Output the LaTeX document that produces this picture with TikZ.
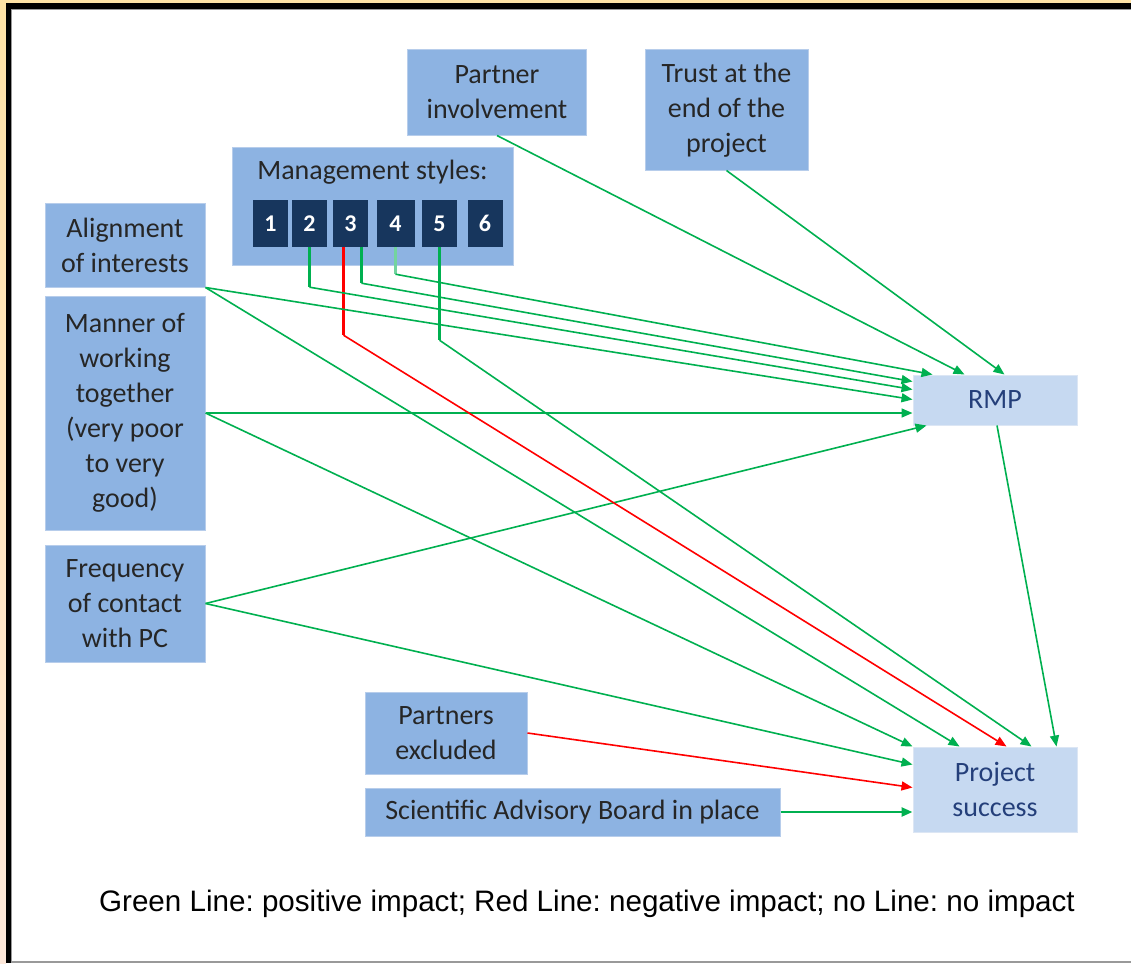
\documentclass[tikz,border=0pt]{standalone}
\usepackage{fontspec}
\setmainfont{Carlito}
\newfontfamily\legendfont{Liberation Sans}
\usetikzlibrary{arrows.meta,calc}
\frenchspacing

\definecolor{inboxfill}{HTML}{8DB3E2}
\definecolor{inboxedge}{HTML}{B7CDEB}
\definecolor{intext}{HTML}{262626}
\definecolor{outboxfill}{HTML}{C6D9F1}
\definecolor{outboxedge}{HTML}{DCE6F4}
\definecolor{outtext}{HTML}{243F7A}
\definecolor{navy}{HTML}{17365D}
\definecolor{posgreen}{HTML}{00B050}
\definecolor{negred}{HTML}{FF0000}
\definecolor{frametop}{HTML}{FFE3A6}
\definecolor{framebot}{HTML}{FDE8DA}

\begin{document}
\begin{tikzpicture}[x=1pt,y=-1pt,
  inbox/.style={draw=inboxedge, line width=1pt, fill=inboxfill, text=intext,
    font=\fontsize{28}{35}\selectfont, align=center, inner sep=0pt},
  outbox/.style={draw=outboxedge, line width=1pt, fill=outboxfill, text=outtext,
    font=\fontsize{28}{35}\selectfont, align=center, inner sep=0pt},
  stylebox/.style={fill=navy, text=white, font=\fontsize{24}{28}\selectfont\bfseries,
    minimum width=35pt, minimum height=47pt, inner sep=0pt},
  posline/.style={draw=posgreen, line width=1.6pt, -{Triangle[length=11pt,width=9pt]}},
  negline/.style={draw=negred, line width=1.6pt, -{Triangle[length=11pt,width=9pt]}},
  stem/.style={line width=2.6pt}
]
\useasboundingbox (0,0) rectangle (1131,963);

% page frame
\fill[white] (0,0) rectangle (1131,963);
\shade[top color=frametop, bottom color=framebot] (0,0) rectangle (6,963);
\fill[frametop] (0,0) rectangle (1131,3);
\fill[black] (6,3) rectangle (1131,9);
\fill[black] (6,3) rectangle (11,963);
\draw[gray!80, line width=1pt] (11,9.5) -- (1131,9.5);
\draw[gray!80, line width=1pt] (11.5,9.5) -- (11.5,963);
\draw[gray!80, line width=1.5pt] (11,962) -- (1131,962);

% input factors
\node[inbox, minimum width=179pt, minimum height=85pt] (partner) at (497,92.5) {Partner\\involvement};
\node[inbox, minimum width=163pt, minimum height=120pt] (trust) at (726.5,110) {Trust at the\\end of the\\project};
\node[inbox, minimum width=281pt, minimum height=118pt] (mgmt) at (372.5,206) {};
\node[font=\fontsize{28}{35}\selectfont, text=intext, inner sep=0pt] (mtitle) at (372.5,172) {Management styles:};
\node[stylebox] (s1) at (270.5,223.5) {1};
\node[stylebox] (s2) at (309.5,223.5) {2};
\node[stylebox] (s3) at (350.5,223.5) {3};
\node[stylebox, minimum width=38pt] (s4) at (395.5,223.5) {4};
\node[stylebox] (s5) at (439.5,223.5) {5};
\node[stylebox] (s6) at (485,223.5) {6};

\node[inbox, minimum width=160pt, minimum height=84pt] (align) at (125,245) {Alignment\\of interests};
\node[inbox, minimum width=160pt, minimum height=234pt] (manner) at (125,413) {Manner of\\working\\together\\(very poor\\to very\\good)};
\node[inbox, minimum width=160pt, minimum height=117pt] (freq) at (125,603.5) {Frequency\\of contact\\with PC};
\node[inbox, minimum width=162pt, minimum height=82pt] (excl) at (446,733) {Partners\\excluded};
\node[inbox, minimum width=415pt, minimum height=48pt] (sab) at (572.5,812) {Scientific Advisory Board in place};

% outcomes
\node[outbox, minimum width=164pt, minimum height=50pt] (rmp) at (995,400) {RMP};
\node[outbox, minimum width=164pt, minimum height=85pt] (ps) at (995,789.5) {Project\\success};

% entry points on the outcome boxes
\coordinate (rT1) at ($(rmp.north west)+(20,0)$);
\coordinate (rT2) at ($(rmp.north west)+(52,0)$);
\coordinate (rT3) at ($(rmp.north west)+(92,0)$);
\coordinate (rL1) at ($(rmp.north west)+(0,7)$);
\coordinate (rL2) at ($(rmp.north west)+(0,15)$);
\coordinate (rL3) at ($(rmp.north west)+(0,25)$);
\coordinate (rB1) at ($(rmp.south west)+(14,0)$);
\coordinate (pT1) at (ps.north west);
\coordinate (pT2) at ($(ps.north west)+(47,0)$);
\coordinate (pT3) at ($(ps.north west)+(94,0)$);
\coordinate (pT4) at ($(ps.north west)+(119,0)$);
\coordinate (pT5) at ($(ps.north west)+(144,0)$);
\coordinate (pL1) at ($(ps.north west)+(0,18)$);
\coordinate (pL2) at ($(ps.north west)+(0,41)$);

% stems below the management style squares
\draw[posgreen, stem] (s2.south) -- ++(0,40) coordinate (k2);
\draw[negred, stem] ($(s3.south)+(-7,0)$) -- ++(0,88) coordinate (k3r);
\draw[posgreen, stem] ($(s3.south)+(11,0)$) -- ++(0,36) coordinate (k3g);
\draw[posgreen!55, stem] (s4.south) -- ++(0,27) coordinate (k4);
\draw[posgreen, stem] (s5.south) -- ++(0,93) coordinate (k5);

% effects on RMP
\draw[posline] (partner.south) -- (rT2);
\draw[posline] (trust.south) -- (rT3);
\draw[posline] (k4) -- (rT1);
\draw[posline] (k3g) -- (rL1);
\draw[posline] (k2) -- (rL2);
\draw[posline] (align.south east) -- (rL3);
\draw[posline] (manner.east) -- (manner.east -| rmp.west);
\draw[posline] (freq.east) -- (rB1);

% effects on project success
\draw[posline] (manner.east) -- (pT1);
\draw[posline] (align.south east) -- (pT2);
\draw[negline] (k3r) -- (pT3);
\draw[posline] (k5) -- (pT4);
\draw[posline] ($(rmp.south)+(2,0)$) -- (pT5);
\draw[posline] (freq.east) -- (pL1);
\draw[negline] (excl.east) -- (pL2);
\draw[posline, line width=2.4pt] (sab.east) -- (sab.east -| ps.west);

% legend
\node[font=\legendfont\fontsize{29.6}{33}\selectfont, inner sep=0pt] (legend) at (587,904)
  {Green Line: positive impact; Red Line: negative impact; no Line: no impact};
\end{tikzpicture}
\end{document}
